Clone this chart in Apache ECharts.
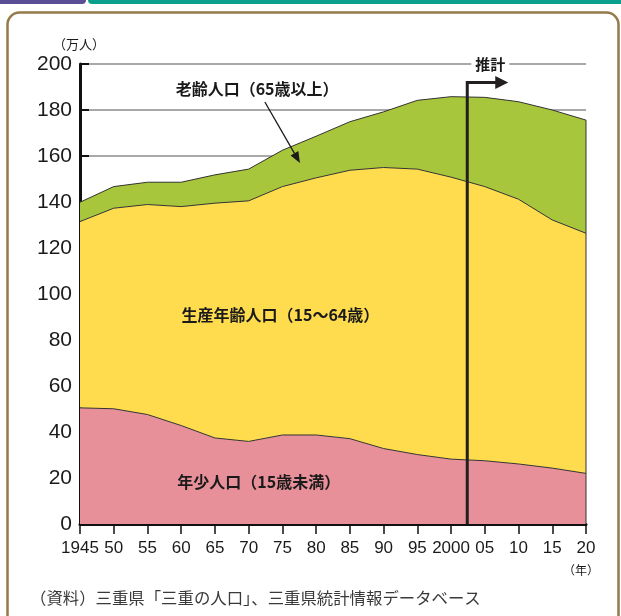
<!DOCTYPE html>
<html>
<head>
<meta charset="utf-8">
<script src="https://cdn.jsdelivr.net/npm/echarts@6/dist/echarts.min.js"></script>
<style>
  html, body { margin: 0; padding: 0; background: #ffffff; }
  #chart { width: 621px; height: 616px; }
</style>
</head>
<body>
<div id="chart"></div>
<script>
// 三重県の年齢3区分別人口（万人）
const years = ['1945', '1950', '1955', '1960', '1965', '1970', '1975', '1980', '1985', '1990', '1995', '2000', '2005', '2010', '2015', '2020'];
const youngPop   = [50.5, 50.1, 47.6, 42.8, 37.4, 35.9, 38.7, 38.7, 37.1, 32.8, 30.2, 28.2, 27.5, 26.1, 24.3, 22.0];
const workingPop = [81.0, 87.2, 91.3, 95.2, 102.1, 104.6, 108.0, 111.8, 116.7, 122.2, 124.1, 122.6, 119.2, 115.1, 107.9, 104.4];
const elderlyPop = [8.4, 9.4, 9.7, 10.6, 12.3, 13.8, 15.8, 18.1, 21.1, 24.2, 29.9, 35.0, 38.8, 42.4, 47.8, 49.2];

const seriesNames = ['年少人口（15歳未満）', '生産年齢人口（15～64歳）', '老齢人口（65歳以上）'];
const seriesColors = ['#e8909a', '#fedc4e', '#a8c63c'];
const yMin = 0, yMax = 200, yStep = 20;
const projectionStartYear = 2002.4;
const yUnit = '（万人）';
const xUnit = '（年）';
const projectionLabel = '推計';
const sourceNote = '（資料）三重県「三重の人口」、三重県統計情報データベース';

const cjk = "'Noto Sans CJK JP', 'Noto Sans', sans-serif";
const latin = "'Liberation Sans', Arial, sans-serif";
const narrow = "'Liberation Sans Narrow', 'Liberation Sans', Arial, sans-serif";

const chart = echarts.init(document.getElementById('chart'));

const option = {
  animation: false,
  backgroundColor: '#ffffff',
  grid: { left: 80, right: 35, top: 64, bottom: 92, containLabel: false },
  xAxis: {
    type: 'category', data: years, boundaryGap: false,
    axisLine: { show: true, lineStyle: { color: '#111', width: 3 } },
    axisTick: { show: true, inside: false, length: 10, interval: 0, lineStyle: { color: '#111', width: 1.5 } },
    splitLine: { show: false },
    axisLabel: {
      color: '#1a1a1a', fontFamily: narrow, fontSize: 17, margin: 16, interval: 0,
      formatter: v => (v === '1945' || v === '2000') ? v : v.slice(2)
    }
  },
  yAxis: {
    type: 'value', min: yMin, max: yMax, interval: yStep,
    axisLine: { show: true, lineStyle: { color: '#111', width: 3 } },
    axisTick: { show: true, inside: true, length: 9, lineStyle: { color: '#111', width: 2 } },
    splitLine: { show: true, lineStyle: { color: '#8c8c8c', width: 1.5 } },
    axisLabel: { color: '#1a1a1a', fontFamily: latin, fontSize: 21, margin: 8 }
  },
  series: [youngPop, workingPop, elderlyPop].map((vals, i) => ({
    name: seriesNames[i],
    type: 'line',
    stack: 'population',
    data: vals,
    symbol: 'none',
    smooth: false,
    lineStyle: { color: '#333', width: 1 },
    areaStyle: { color: seriesColors[i], opacity: 1 }
  }))
};
chart.setOption(option);

// Pixel position for a (possibly fractional) year and a value
const p0 = chart.convertToPixel({ gridIndex: 0 }, [0, 0]);
const p1 = chart.convertToPixel({ gridIndex: 0 }, [1, 0]);
const firstYear = Number(years[0]);
const yearStep = Number(years[1]) - firstYear;
function px(year, val) {
  const x = p0[0] + (year - firstYear) / yearStep * (p1[0] - p0[0]);
  const y = chart.convertToPixel({ yAxisIndex: 0 }, val);
  return [x, y];
}

const lastIdx = years.length - 1;
const totalLast = youngPop[lastIdx] + workingPop[lastIdx] + elderlyPop[lastIdx];
const edgeBottom = px(Number(years[lastIdx]), 0);
const edgeTop = px(Number(years[lastIdx]), totalLast);

// Projection marker
const projBase = px(projectionStartYear, 0);
const projTop = px(projectionStartYear, 192);
const projLbl = px(projectionStartYear, 200);

// Pointer from the elderly label into its band
const ptrFrom = px(1972.4, 183.5);
const ptrTo = px(1977.6, 157.0);
const ang = Math.atan2(ptrTo[1] - ptrFrom[1], ptrTo[0] - ptrFrom[0]);
const headLen = 11, headHalf = 4.5;
const hbx = ptrTo[0] - headLen * Math.cos(ang), hby = ptrTo[1] - headLen * Math.sin(ang);
const nx = -Math.sin(ang), ny = Math.cos(ang);

const lblElderly = px(1971.25, 189.1);
const lblWorking = px(1974.7, 90.9);
const lblYoung = px(1971.5, 18.5);

const labelStyle = (txt, p) => ({
  type: 'text', x: p[0], y: p[1], z: 20,
  style: { text: txt, fill: '#1a1a1a', font: `bold 16px ${cjk}`, align: 'center', verticalAlign: 'middle' }
});

chart.setOption({
  graphic: [
    // header strips
    { type: 'rect', shape: { x: -6, y: -6, width: 92, height: 10, r: 4 }, style: { fill: '#5a4f97' }, z: 30 },
    { type: 'rect', shape: { x: 88, y: -6, width: 560, height: 10, r: 4 }, style: { fill: '#0aa08c' }, z: 30 },
    // panel frame
    { type: 'rect', shape: { x: 7.5, y: 12.5, width: 611, height: 640, r: 12 }, style: { fill: 'none', stroke: '#957a4a', lineWidth: 2.5 }, z: 30 },
    // right edge line of the areas
    { type: 'line', shape: { x1: edgeBottom[0], y1: edgeBottom[1], x2: edgeTop[0], y2: edgeTop[1] }, style: { stroke: '#333', lineWidth: 1 }, z: 10 },
    // projection marker
    { type: 'polyline', shape: { points: [[projBase[0], projBase[1]], [projTop[0], projTop[1]], [projTop[0] + 30, projTop[1]]] }, style: { stroke: '#231f20', lineWidth: 3, fill: null }, z: 15 },
    { type: 'polygon', shape: { points: [[projTop[0] + 28, projTop[1] - 6.5], [projTop[0] + 41, projTop[1]], [projTop[0] + 28, projTop[1] + 6.5]] }, style: { fill: '#231f20' }, z: 15 },
    { type: 'text', x: projLbl[0] + 23, y: projLbl[1], z: 16,
      style: { text: projectionLabel, fill: '#1a1a1a', font: `bold 15px ${cjk}`, align: 'center', verticalAlign: 'middle', backgroundColor: '#ffffff', padding: [2, 4] } },
    // pointer arrow
    { type: 'line', shape: { x1: ptrFrom[0], y1: ptrFrom[1], x2: hbx, y2: hby }, style: { stroke: '#1a1a1a', lineWidth: 1.3 }, z: 15 },
    { type: 'polygon', shape: { points: [[ptrTo[0], ptrTo[1]], [hbx + nx * headHalf, hby + ny * headHalf], [hbx - nx * headHalf, hby - ny * headHalf]] }, style: { fill: '#1a1a1a' }, z: 15 },
    // band labels
    labelStyle(seriesNames[2], lblElderly),
    labelStyle(seriesNames[1], lblWorking),
    labelStyle(seriesNames[0], lblYoung),
    // units and note
    { type: 'text', x: 79, y: 44, z: 20, style: { text: yUnit, fill: '#1a1a1a', font: `13px ${cjk}`, align: 'center', verticalAlign: 'middle' } },
    { type: 'text', x: 581, y: 570, z: 20, style: { text: xUnit, fill: '#1a1a1a', font: `12px ${cjk}`, align: 'center', verticalAlign: 'middle' } },
    { type: 'text', x: 30, y: 598, z: 20, style: { text: sourceNote, fill: '#3a3a3a', font: `16.4px ${cjk}`, align: 'left', verticalAlign: 'middle' } }
  ]
});
</script>
</body>
</html>
